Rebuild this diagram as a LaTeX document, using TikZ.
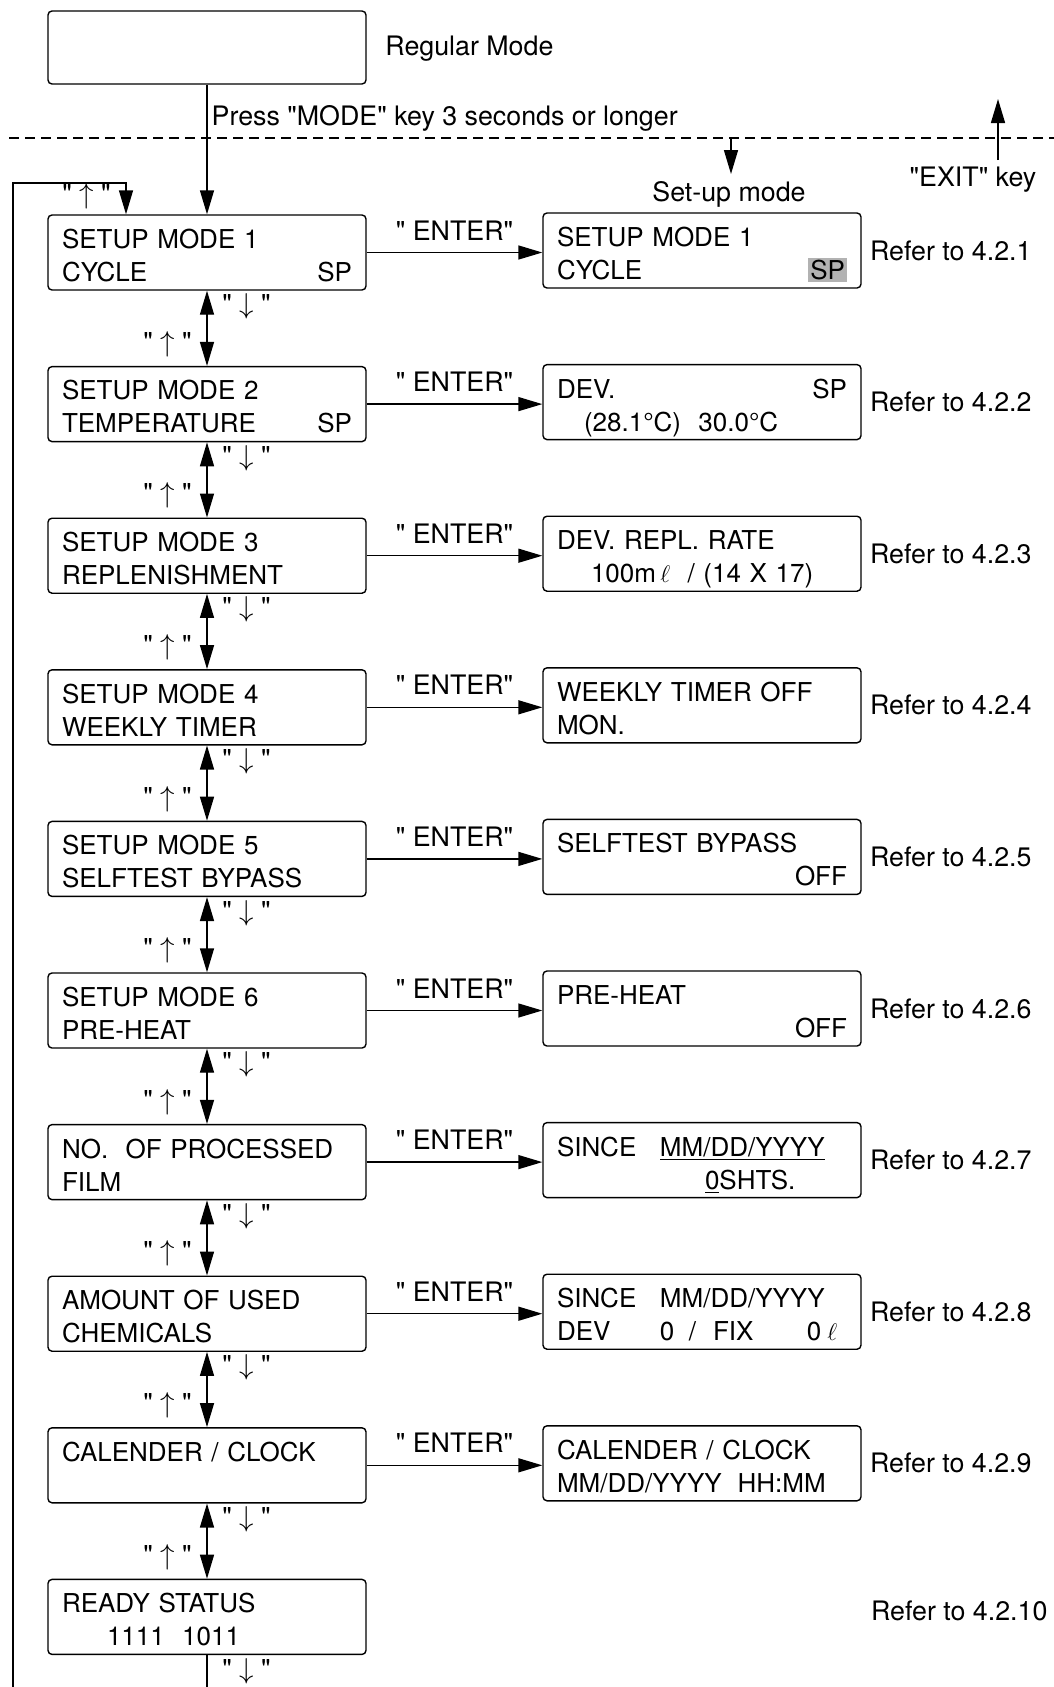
\documentclass[tikz,border=0pt]{standalone}
\usepackage{fontspec}
\setmainfont{TeX Gyre Heros}[Ligatures=TeXOff]
\usetikzlibrary{arrows.meta,positioning}
\tikzstyle{lcd} = [rectangle, rounded corners=2pt, draw=black, line width=0.7pt, minimum width=159pt, minimum height=37.5pt, text width=145pt, inner xsep=7pt, align=left, font=\fontsize{13}{16.5}\selectfont, execute at begin node=\rule{0pt}{12.5pt}]
\tikzstyle{txt} = [font=\fontsize{13.4}{16.5}\selectfont]
\tikzstyle{arrow} = [line width=0.7pt, -{Triangle[length=12pt,width=7pt]}]
\tikzstyle{dblarrow} = [line width=0.7pt, {Triangle[length=12pt,width=7pt]}-{Triangle[length=12pt,width=7pt]}]
\newcommand{\pushright}{\hskip 0pt plus 1fill\relax}
\newcommand{\nodepth}[1]{\raisebox{0pt}[\height][0pt]{#1}}
\newcommand{\keydown}{"\ $\downarrow$\ "}
\newcommand{\keyup}{"\ $\uparrow$\ "}

\begin{document}
\begin{tikzpicture}[x=0.5pt, y=-0.5pt]
    \useasboundingbox (0,0) rectangle (1054,1687);
    \clip (0,0) rectangle (1054,1687);
    \fill[white] (0,0) rectangle (1054,1687);

    % regular mode
    \node[lcd, minimum height=36.5pt] (regular) at (207,47.5) {};
    \node[txt, anchor=west, inner sep=0pt] (regular label) at (385,49) {Regular Mode};
    \draw[line width=0.7pt, dash pattern=on 5pt off 3pt] (9,138) -- (1054,138);
    \coordinate (setup top) at (731,138);
    \node[txt] (setup) at (729,194) {Set-up mode};
    \node[txt] (exit) at (973,180) {"EXIT" key};
    \coordinate (exit tip) at (998,99);

    % setup menu
    \node[lcd] (m1) at (207,252.5) {SETUP MODE 1\\CYCLE\pushright SP};
    \node[lcd, below=37.6pt of m1] (m2) {SETUP MODE 2\\TEMPERATURE\pushright SP};
    \node[lcd, below=37.6pt of m2] (m3) {SETUP MODE 3\\REPLENISHMENT};
    \node[lcd, below=37.6pt of m3] (m4) {SETUP MODE 4\\WEEKLY TIMER};
    \node[lcd, below=37.6pt of m4] (m5) {SETUP MODE 5\\SELFTEST BYPASS};
    \node[lcd, below=37.6pt of m5] (m6) {SETUP MODE 6\\PRE-HEAT};
    \node[lcd, below=37.6pt of m6] (m7) {NO.\ \ OF PROCESSED\\FILM};
    \node[lcd, below=37.6pt of m7] (m8) {AMOUNT OF USED\\CHEMICALS};
    \node[lcd, below=37.6pt of m8] (m9) {CALENDER / CLOCK\\\mbox{}};
    \node[lcd, below=37.6pt of m9] (m10) {READY STATUS\\\hspace*{22.5pt}1111\ \ 1011};

    % set-up displays
    \node[lcd, right=87.8pt of m1, yshift=1pt] (r1) {SETUP MODE 1\\CYCLE\pushright\smash{\setlength\fboxsep{1pt}\colorbox{gray!60}{SP}}};
    \node[lcd, right=87.8pt of m2, yshift=1pt] (r2) {DEV.\pushright SP\\\nodepth{\hspace*{13.5pt}(28.1°C)\ \ 30.0°C}};
    \node[lcd, right=87.8pt of m3, yshift=1pt] (r3) {DEV. REPL. RATE\\\nodepth{\hspace*{17pt}100m\,$\ell$\ \ /\ (14 X 17)}};
    \node[lcd, right=87.8pt of m4, yshift=1pt] (r4) {WEEKLY TIMER OFF\\MON.};
    \node[lcd, right=87.8pt of m5, yshift=1pt] (r5) {SELFTEST BYPASS\\\mbox{}\pushright OFF};
    \node[lcd, right=87.8pt of m6, yshift=1pt] (r6) {PRE-HEAT\\\mbox{}\pushright OFF};
    \node[lcd, right=87.8pt of m7, yshift=1pt] (r7) {\makebox[51.5pt][l]{SINCE}\underline{MM/DD/YYYY}\\\nodepth{\hspace*{74pt}\underline{0}SHTS.}};
    \node[lcd, right=87.8pt of m8, yshift=1pt] (r8) {\makebox[51.5pt][l]{SINCE}MM/DD/YYYY\\\nodepth{\makebox[51.5pt][l]{DEV}\makebox[14.5pt][l]{0}\makebox[12pt][l]{/}\makebox[47pt][l]{FIX}0\hspace{3pt}$\ell$}};
    \node[lcd, right=87.8pt of m9, yshift=1pt] (r9) {CALENDER / CLOCK\\MM/DD/YYYY\hspace{8pt}HH:MM};

    % references
    \node[txt, right=4pt of r1, inner sep=0pt] (ref1) {Refer to 4.2.1};
    \node[txt, right=4pt of r2, inner sep=0pt] (ref2) {Refer to 4.2.2};
    \node[txt, right=4pt of r3, inner sep=0pt] (ref3) {Refer to 4.2.3};
    \node[txt, right=4pt of r4, inner sep=0pt] (ref4) {Refer to 4.2.4};
    \node[txt, right=4pt of r5, inner sep=0pt] (ref5) {Refer to 4.2.5};
    \node[txt, right=4pt of r6, inner sep=0pt] (ref6) {Refer to 4.2.6};
    \node[txt, right=4pt of r7, inner sep=0pt] (ref7) {Refer to 4.2.7};
    \node[txt, right=4pt of r8, inner sep=0pt] (ref8) {Refer to 4.2.8};
    \node[txt, right=4pt of r9, inner sep=0pt] (ref9) {Refer to 4.2.9};
    \node[txt, right=252pt of m10, yshift=3pt, inner sep=0pt] (ref10) {Refer to 4.2.10};

    % connectors
    \draw[arrow] (regular) -- (m1) node[pos=.26, right, inner sep=2pt, txt] (press) {Press "MODE" key 3 seconds or longer};
    \draw[arrow] (setup top) -- (setup top |- setup.north);
    \draw[arrow] (exit tip |- exit.north) -- (exit tip);

    \draw[arrow] (m1.east) -- (m1.east -| r1.west) node[midway, above=2.5pt, txt] {" ENTER"};
    \draw[arrow] (m2.east) -- (m2.east -| r2.west) node[midway, above=2.5pt, txt] {" ENTER"};
    \draw[arrow] (m3.east) -- (m3.east -| r3.west) node[midway, above=2.5pt, txt] {" ENTER"};
    \draw[arrow] (m4.east) -- (m4.east -| r4.west) node[midway, above=2.5pt, txt] {" ENTER"};
    \draw[arrow] (m5.east) -- (m5.east -| r5.west) node[midway, above=2.5pt, txt] {" ENTER"};
    \draw[arrow] (m6.east) -- (m6.east -| r6.west) node[midway, above=2.5pt, txt] {" ENTER"};
    \draw[arrow] (m7.east) -- (m7.east -| r7.west) node[midway, above=2.5pt, txt] {" ENTER"};
    \draw[arrow] (m8.east) -- (m8.east -| r8.west) node[midway, above=2.5pt, txt] {" ENTER"};
    \draw[arrow] (m9.east) -- (m9.east -| r9.west) node[midway, above=2.5pt, txt] {" ENTER"};

    \draw[dblarrow] (m1) -- (m2) node[pos=.21, right=4pt, txt] {\keydown} node[pos=.71, left=4pt, txt] {\keyup};
    \draw[dblarrow] (m2) -- (m3) node[pos=.21, right=4pt, txt] {\keydown} node[pos=.71, left=4pt, txt] {\keyup};
    \draw[dblarrow] (m3) -- (m4) node[pos=.21, right=4pt, txt] {\keydown} node[pos=.71, left=4pt, txt] {\keyup};
    \draw[dblarrow] (m4) -- (m5) node[pos=.21, right=4pt, txt] {\keydown} node[pos=.71, left=4pt, txt] {\keyup};
    \draw[dblarrow] (m5) -- (m6) node[pos=.21, right=4pt, txt] {\keydown} node[pos=.71, left=4pt, txt] {\keyup};
    \draw[dblarrow] (m6) -- (m7) node[pos=.21, right=4pt, txt] {\keydown} node[pos=.71, left=4pt, txt] {\keyup};
    \draw[dblarrow] (m7) -- (m8) node[pos=.21, right=4pt, txt] {\keydown} node[pos=.71, left=4pt, txt] {\keyup};
    \draw[dblarrow] (m8) -- (m9) node[pos=.21, right=4pt, txt] {\keydown} node[pos=.71, left=4pt, txt] {\keyup};
    \draw[dblarrow] (m9) -- (m10) node[pos=.21, right=4pt, txt] {\keydown} node[pos=.71, left=4pt, txt] {\keyup};

    % back to the first mode
    \coordinate (loop in) at (126,183);
    \draw[arrow] (m10.south) -- ++(0,80) node[pos=.2, right=4pt, txt] {\keydown}
        -| (13,183) -- (loop in) -- (loop in |- m1.north) node[pos=.44, left=4pt, txt] {\keyup};
\end{tikzpicture}
\end{document}
